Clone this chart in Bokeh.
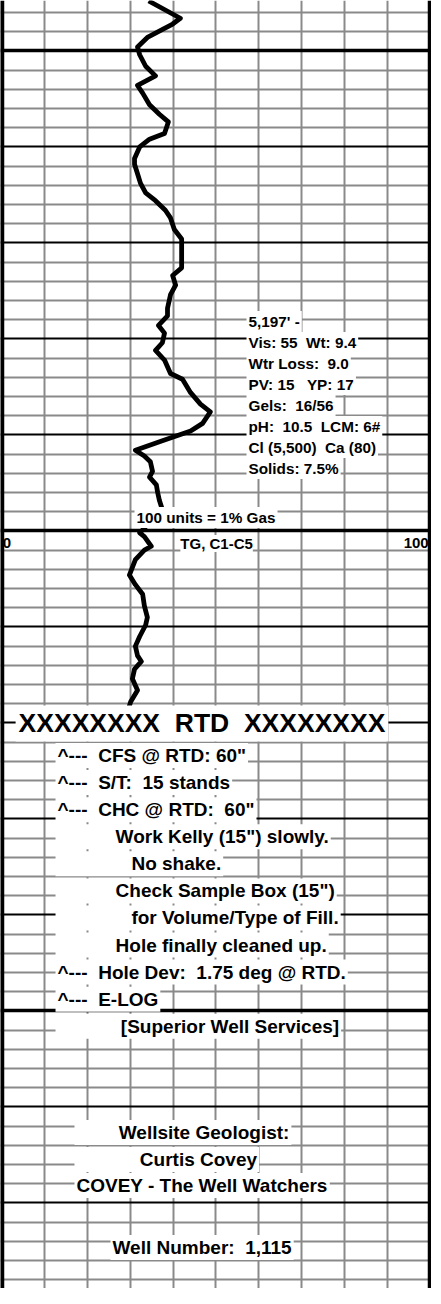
import re
from bokeh.plotting import figure
from bokeh.models import Range1d, Grid, FixedTicker, ColumnDataSource
from bokeh.core.properties import value
from bokeh.embed import file_html
from bokeh.resources import INLINE

# ---- data: total gas curve (depth in ft, gas in units, 0-100 scale) ----
gas_depth = [5172.4, 5173.3, 5173.6, 5174.3, 5174.8, 5175.2, 5175.8, 5176.3, 5176.8, 5177.2,
             5177.8, 5178.3, 5178.7, 5179.3, 5179.6, 5180.0, 5180.6, 5180.9, 5181.4, 5181.9,
             5182.4, 5182.8, 5183.3, 5183.7, 5184.3, 5184.8, 5186.3, 5186.7, 5187.2, 5187.7,
             5188.4, 5188.8, 5189.3, 5189.7, 5190.2, 5190.6, 5191.1, 5191.8, 5192.1, 5192.8,
             5193.4, 5193.8, 5194.4, 5194.8, 5195.3, 5195.8, 5196.1, 5196.4, 5196.9, 5197.2,
             5197.6, 5198.0, 5198.4, 5198.9, 5200.1, 5200.3, 5200.8, 5201.0, 5201.5, 5202.3,
             5202.8, 5203.3, 5203.9, 5204.5, 5204.9, 5205.5, 5206.0, 5206.5, 5206.8, 5207.2,
             5207.7, 5208.3, 5208.9, 5209.4]
gas_units = [34.3, 41.7, 39.9, 34.0, 31.7, 32.2, 33.6, 35.9, 31.7, 32.9,
             34.5, 36.8, 38.9, 38.0, 34.5, 32.2, 31.0, 31.0, 31.7, 32.4,
             33.6, 35.9, 38.2, 39.4, 40.3, 42.0, 42.0, 39.9, 40.6, 39.4,
             38.7, 38.7, 36.6, 38.0, 37.5, 35.9, 38.0, 39.4, 42.2, 44.1,
             46.4, 48.7, 46.9, 44.1, 37.5, 31.2, 33.3, 34.7, 35.2, 34.5,
             36.1, 36.4, 36.8, 37.5, 32.2, 33.3, 34.9, 33.3, 31.2, 29.8,
             31.2, 32.9, 33.3, 34.0, 33.6, 32.2, 31.2, 31.7, 32.6, 31.0,
             30.5, 31.7, 30.1, 29.4]

# ---- grid: 1 ft rows, 10-unit columns ----
row_depths = list(range(5173, 5240))
col_units = list(range(10, 100, 10))
border_units = [0, 100]

mud_text = ["5,197' -", "Vis: 55  Wt: 9.4", "Wtr Loss:  9.0", "PV: 15   YP: 17",
            "Gels:  16/56", "pH:  10.5  LCM: 6#", "Cl (5,500)  Ca (80)", "Solids: 7.5%"]
notes_text = ['^---  CFS @ RTD: 60"', '^---  S/T:  15 stands', '^---  CHC @ RTD:  60"',
              'Work Kelly (15") slowly.', 'No shake.', 'Check Sample Box (15")',
              'for Volume/Type of Fill.', 'Hole finally cleaned up.',
              '^---  Hole Dev:  1.75 deg @ RTD.', '^---  E-LOG', '[Superior Well Services]']
notes_indent = [0, 0, 0, 11, 14, 11, 14, 11, 0, 0, 12]
geo_text = ["Wellsite Geologist:", "Curtis Covey", "COVEY - The Well Watchers"]
geo_indent = [8, 12, 0]

FONT = value("Liberation Sans")
NB = "\u00a0"

def keep_spaces(s, indent=0):
    # keep runs of spaces visible in SVG text: n spaces -> (n-1) no-break spaces + 1 space
    s = re.sub(r" {2,}", lambda m: NB * (len(m.group(0)) - 1) + " ", s)
    return NB * indent + s

p = figure(width=431, height=1288,
           x_range=Range1d(-0.3, 100.35), y_range=Range1d(5239.458, 5172.375),
           x_axis_type=None, y_axis_type=None, toolbar_location=None,
           output_backend="svg", min_border=0, outline_line_color=None,
           background_fill_color="white", border_fill_color="white")

gray_rows = [d for d in row_depths if d % 5 != 0]
dark_rows = [d for d in row_depths if d % 5 == 0 and d % 25 != 0]
thick_rows = [d for d in row_depths if d % 25 == 0]

p.add_layout(Grid(dimension=0, ticker=FixedTicker(ticks=col_units),
                  grid_line_color="#8a8a8a", grid_line_width=2))
p.add_layout(Grid(dimension=1, ticker=FixedTicker(ticks=gray_rows),
                  grid_line_color="#8a8a8a", grid_line_width=2))
p.add_layout(Grid(dimension=1, ticker=FixedTicker(ticks=dark_rows),
                  grid_line_color="black", grid_line_width=2))
p.add_layout(Grid(dimension=1, ticker=FixedTicker(ticks=thick_rows),
                  grid_line_color="black", grid_line_width=3.5))
p.add_layout(Grid(dimension=0, ticker=FixedTicker(ticks=border_units),
                  grid_line_color="black", grid_line_width=5.5))

p.line(gas_units, gas_depth, line_color="black", line_width=4.8, line_join="round")

def txt(xs, ys, texts, size, align="left", bg=True, pad=2):
    src = ColumnDataSource(dict(x=xs, y=ys, t=[keep_spaces(t) for t in texts]))
    kw = dict(background_fill_color="white", padding=pad) if bg else {}
    p.text(x="x", y="y", text="t", source=src, text_font=FONT, text_font_style="bold",
           text_font_size=size, text_align=align, text_baseline="middle",
           text_color="black", **kw)

# mud properties block
mud_y = [5189.09 + i * 1.094 for i in range(len(mud_text))]
txt([57.15] * len(mud_text), mud_y, mud_text, "15.3px")

# gas scale labels
txt([30.99], [5199.30], ["100 units = 1% Gas"], "15.3px")
txt([41.7], [5200.65], ["TG, C1-C5"], "15px", pad=0)
txt([0.2], [5200.65], ["0"], "15px", bg=False)
txt([99.7], [5200.65], ["100"], "15px", align="right", bg=False)

# RTD line
txt([46.75], [5210.03], ["XXXXXXXX  RTD  XXXXXXXX"], "26.5px", align="center", pad=3)

# notes
notes_y = [5211.70 + i * 1.41 for i in range(len(notes_text))]
txt([12.55] * len(notes_text), notes_y,
    [NB * n + s for n, s in zip(notes_indent, notes_text)], "19px")

# geologist block
txt([16.98] * 3, [5231.33, 5232.74, 5234.09],
    [NB * n + s for n, s in zip(geo_indent, geo_text)], "19px")
txt([25.39], [5237.32], ["Well Number:  1,115"], "19px")

open("out.html", "w").write(file_html(p, INLINE))
